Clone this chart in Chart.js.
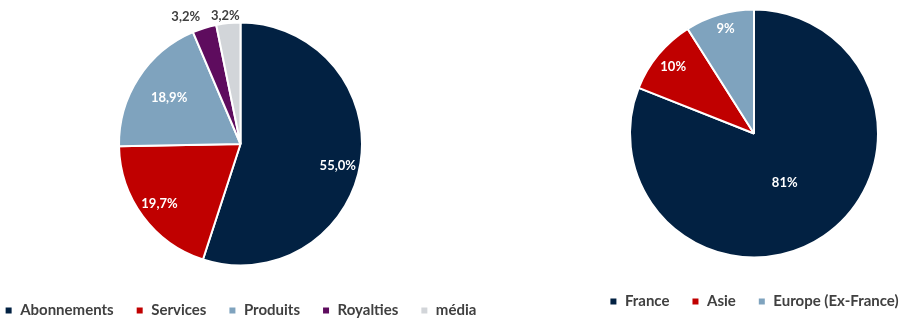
<!DOCTYPE html>
<html lang="fr">
<head>
  <meta charset="UTF-8">
  <title>Répartition du chiffre d'affaires</title>
  <script src="https://cdn.jsdelivr.net/npm/chart.js"></script>
  <style>
    html, body {
      margin: 0;
      padding: 0;
      background: #fff;
      overflow: hidden;
    }
    body {
      width: 902px;
      height: 321px;
      position: relative;
    }
    .pie-box {
      position: absolute;
      top: -20px;
    }
    #left-box { left: -30px; width: 541px; height: 348px; }
    #right-box { left: 482px; width: 544px; height: 339px; }
  </style>
</head>
<body>
<div class="pie-box" id="left-box"><canvas id="pieActivity"></canvas></div>
<div class="pie-box" id="right-box"><canvas id="pieRegion"></canvas></div>

<script>
// revenue by activity (%)
const activityLabels = ['Abonnements', 'Services', 'Produits', 'Royalties', 'média'];
const activityShares = [55.0, 19.7, 18.9, 3.2, 3.2];
const activityColors = ['#022142', '#c00000', '#7fa3be', '#5e0c5e', '#d2d5d9'];

// revenue by region (%)
const regionLabels = ['France', 'Asie', 'Europe (Ex-France)'];
const regionShares = [81, 10, 9];
const regionColors = ['#022142', '#c00000', '#7fa3be'];

const FONT = 'Lato, "Open Sans", sans-serif';

// draws the % labels; place[i] = [radius fraction, angle nudge in degrees]
const sliceLabels = {
  id: 'sliceLabels',
  afterDatasetsDraw(chart, args, opts) {
    const ctx = chart.ctx;
    const meta = chart.getDatasetMeta(0);
    const values = chart.data.datasets[0].data;
    ctx.save();
    ctx.font = 'bold 13px ' + FONT;
    ctx.textAlign = 'center';
    ctx.textBaseline = 'middle';
    meta.data.forEach((arc, i) => {
      const p = arc.getProps(['x', 'y', 'startAngle', 'endAngle', 'outerRadius'], true);
      const [frac, nudge] = opts.place[i];
      const mid = (p.startAngle + p.endAngle) / 2 + nudge * Math.PI / 180;
      const r = p.outerRadius * frac;
      ctx.fillStyle = frac > 1 ? '#404040' : '#ffffff';
      ctx.fillText(opts.format(values[i]), p.x + Math.cos(mid) * r, p.y + Math.sin(mid) * r);
    });
    ctx.restore();
  }
};

function makePie(id, labels, values, colors, radius, top, place, format) {
  return new Chart(document.getElementById(id), {
    type: 'pie',
    data: {
      labels,
      datasets: [{
        data: values,
        backgroundColor: colors,
        borderColor: '#ffffff',
        borderWidth: 2,
        radius
      }]
    },
    options: {
      responsive: true,
      maintainAspectRatio: false,
      animation: false,
      layout: { padding: { top, bottom: 0, left: 0, right: 0 } },
      plugins: {
        tooltip: { enabled: false },
        legend: {
          position: 'bottom',
          labels: {
            boxWidth: 8,
            boxHeight: 8,
            padding: 22,
            color: '#404040',
            font: { family: FONT, size: 15, weight: 'bold' }
          }
        },
        sliceLabels: { place, format }
      }
    },
    plugins: [sliceLabels]
  });
}

const oneDecimal = v => v.toFixed(1).replace('.', ',') + '%';
const whole = v => v + '%';

makePie('pieActivity', activityLabels, activityShares, activityColors, 121.5, 27,
  [[0.82, 3.5], [0.83, 0], [0.70, 0], [1.14, -6], [1.065, -1]], oneDecimal);

makePie('pieRegion', regionLabels, regionShares, regionColors, 124, 15,
  [[0.47, 2.4], [0.846, 0], [0.877, 1]], whole);
</script>
</body>
</html>
